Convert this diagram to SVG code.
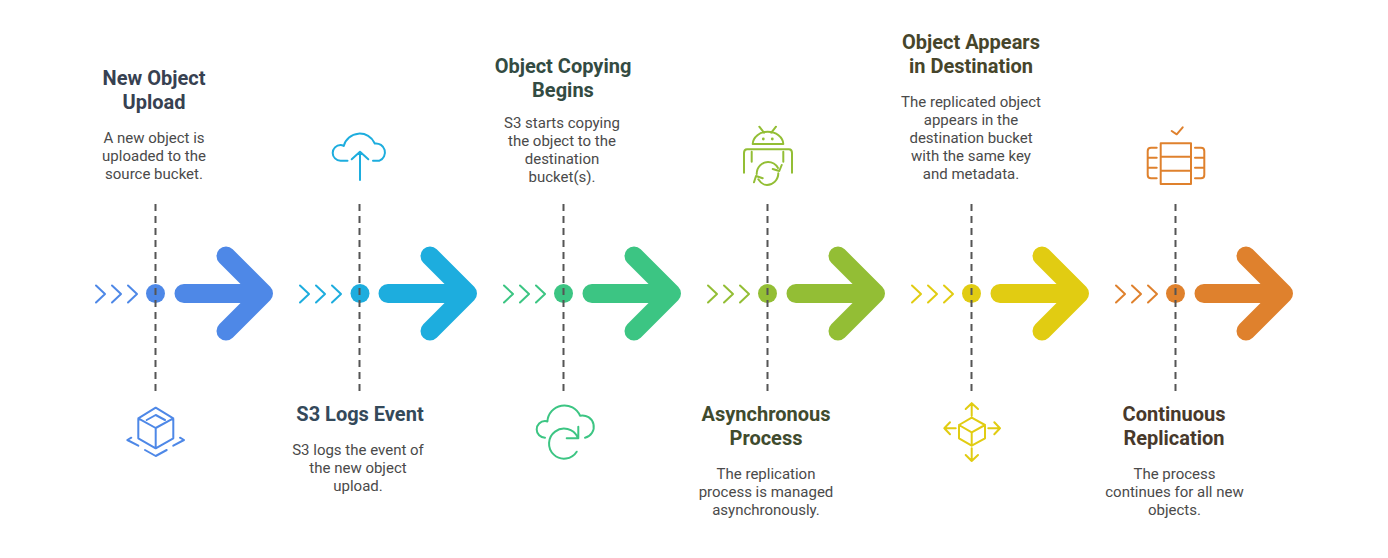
<svg xmlns="http://www.w3.org/2000/svg" width="1388" height="558" viewBox="0 0 1388 558">
<style>
text{font-family:Roboto,"Liberation Sans",sans-serif;text-anchor:middle}
.t{font-size:20px;font-weight:700}
.b{font-size:15px;fill:#4a4a4a}
.d{stroke:#555;stroke-width:2;stroke-dasharray:7 5;fill:none}
.c{fill:none;stroke:currentColor;stroke-width:2;stroke-linecap:round;stroke-linejoin:round}
.a{fill:none;stroke:currentColor;stroke-width:19;stroke-linecap:round;stroke-linejoin:round}
.i{fill:none;stroke:currentColor;stroke-width:2;stroke-linecap:round;stroke-linejoin:round}
.s1{color:#4e88e7}.s2{color:#1dadde}.s3{color:#3cc583}.s4{color:#93be35}.s5{color:#e1cc12}.s6{color:#df812d}
</style>
<defs>
<g id="flow">
<path class="c" d="M96 285.500L105 294L96 302.500M112 285.500L121 294L112 302.500M128 285.500L137 294L128 302.500"/>
<path class="a" d="M184 293.500H263M226 256L263.500 293.500L226 331"/>
</g>
</defs>
<rect width="1388" height="558" fill="#fff"/>
<g id="connectors">
<use href="#flow" class="s1"/>
<use href="#flow" x="204" class="s2"/>
<use href="#flow" x="408" class="s3"/>
<use href="#flow" x="612" class="s4"/>
<use href="#flow" x="816" class="s5"/>
<use href="#flow" x="1020" class="s6"/>
</g>
<g id="node-1" class="s1">
<circle cx="155.500" cy="293.500" r="9.500" fill="currentColor"/>
<path class="d" d="M155.500 204V392"/>
<path class="i" d="M155.700 407.700L173.300 418.300V438.300L155.700 448.300L138.300 438.300V418.300ZM138.300 418.300L155.700 428V448.300M173.300 418.300L155.700 428M146.700 420L155.700 415L165 420M131.300 437.700L127.300 440L138.300 445.700M180 437.700L184 440L173.300 445.700M145 450L155.700 456L166.700 450"/>
<text class="t" x="154" y="85" fill="#374151">New Object</text>
<text class="t" x="154" y="109" fill="#374151">Upload</text>
<text class="b" x="154" y="143">A new object is</text>
<text class="b" x="154" y="161">uploaded to the</text>
<text class="b" x="154" y="179">source bucket.</text>
</g>
<g id="node-2" class="s2">
<circle cx="360" cy="293.500" r="9.500" fill="currentColor"/>
<path class="d" d="M359.500 204V392"/>
<path class="i" d="M347.500 160.700H340.500A7.800 7.800 0 0 1 340.500 145.100Q342.200 145.100 343.700 146A16.500 16.500 0 0 1 374.800 143.500A9 9 0 0 1 379.500 160.700H373M360 180V151.700M351.700 159.300L360 151.700L368.300 159.300"/>
<text class="t" x="360" y="421" fill="#34495a">S3 Logs Event</text>
<text class="b" x="358" y="455">S3 logs the event of</text>
<text class="b" x="358" y="473">the new object</text>
<text class="b" x="358" y="491">upload.</text>
</g>
<g id="node-3" class="s3">
<circle cx="563.500" cy="293.500" r="9.500" fill="currentColor"/>
<path class="d" d="M563.500 204V392"/>
<path class="i" d="M545 437.700A8.300 8.300 0 0 1 545 421.100Q546 421.100 547.400 421.500A17 17 0 0 1 580 415.700A11 11 0 0 1 585 437.700M577.500 437A15 15 0 1 0 576.700 451.700M578.300 426.700V438.300H566.700"/>
<text class="t" x="563" y="73" fill="#334b42">Object Copying</text>
<text class="t" x="563" y="97" fill="#334b42">Begins</text>
<text class="b" x="562" y="128">S3 starts copying</text>
<text class="b" x="562" y="146">the object to the</text>
<text class="b" x="562" y="164">destination</text>
<text class="b" x="562" y="182">bucket(s).</text>
</g>
<g id="node-4" class="s4">
<circle cx="767.500" cy="293.500" r="9.500" fill="currentColor"/>
<path class="d" d="M767.500 204V392"/>
<path class="i" d="M752.700 144H783.300C783 137 776 131.700 767.700 131.700C760 131.700 753 137 752.700 144ZM759.300 126.700L764 132.700M776 126.700L771.300 132.700M744 172.700V153C744 150.500 745.500 149.300 747 149.300H789C790.800 149.300 792 150.500 792 153V172.700M751.700 151.700V161.700M783.300 151.700V161.700M756.700 174C756.700 167 762 162 768 162C772 162 776 164.500 778 168M781.700 165L779.300 171L772.700 169M778.300 173.300C778.300 180 773 185 767 185C763.500 185 760.300 182.500 758.300 179.300M754 182.300L756 176L762.700 178.300"/>
<circle cx="763.300" cy="139" r="1.400" fill="currentColor"/>
<circle cx="772.300" cy="139" r="1.400" fill="currentColor"/>
<text class="t" x="766" y="421" fill="#404b2e">Asynchronous</text>
<text class="t" x="766" y="445" fill="#404b2e">Process</text>
<text class="b" x="766" y="479">The replication</text>
<text class="b" x="766" y="497">process is managed</text>
<text class="b" x="766" y="515">asynchronously.</text>
</g>
<g id="node-5" class="s5">
<circle cx="971.500" cy="293.500" r="9.500" fill="currentColor"/>
<path class="d" d="M971.500 204V392"/>
<path class="i" d="M971.700 417.700L985 425V438.300L971.700 445.700L959 438.300V425ZM959 425L971.700 432.300L985 425M971.700 432.300V445.700M971.700 415.700V403.300M965.700 409L971.700 403.300L978 409M971.700 448.300V461M965.700 455L971.700 461L978 455M955.700 428.300H944.300M950 422.300L944.300 428.300L950 434.300M988.300 428.300H1000M994.300 422.300L1000 428.300L994.300 434.300"/>
<text class="t" x="971" y="49" fill="#46452b">Object Appears</text>
<text class="t" x="971" y="73" fill="#46452b">in Destination</text>
<text class="b" x="971" y="107">The replicated object</text>
<text class="b" x="971" y="125">appears in the</text>
<text class="b" x="971" y="143">destination bucket</text>
<text class="b" x="971" y="161">with the same key</text>
<text class="b" x="971" y="179">and metadata.</text>
</g>
<g id="node-6" class="s6">
<circle cx="1175.500" cy="293.500" r="9.500" fill="currentColor"/>
<path class="d" d="M1175.500 204V392"/>
<path class="i" d="M1160.700 143.300H1191V184H1160.700ZM1160.700 156.700H1191M1160.700 170.700H1191M1171.700 131L1176.700 134.300L1182.700 127.300M1156.700 147.700H1151C1149 147.700 1147.700 149 1147.700 151V175C1147.700 177 1149 178.300 1151 178.300H1156.700M1147.700 157.700H1156.700M1147.700 167.700H1156.700M1195 147.700H1201C1203 147.700 1204.300 149 1204.300 151V175C1204.300 177 1203 178.300 1201 178.300H1195M1195 157.700H1204.300M1195 167.700H1204.300"/>
<text class="t" x="1174" y="421" fill="#48392b">Continuous</text>
<text class="t" x="1174" y="445" fill="#48392b">Replication</text>
<text class="b" x="1174.500" y="479">The process</text>
<text class="b" x="1174.500" y="497">continues for all new</text>
<text class="b" x="1174.500" y="515">objects.</text>
</g>
</svg>
